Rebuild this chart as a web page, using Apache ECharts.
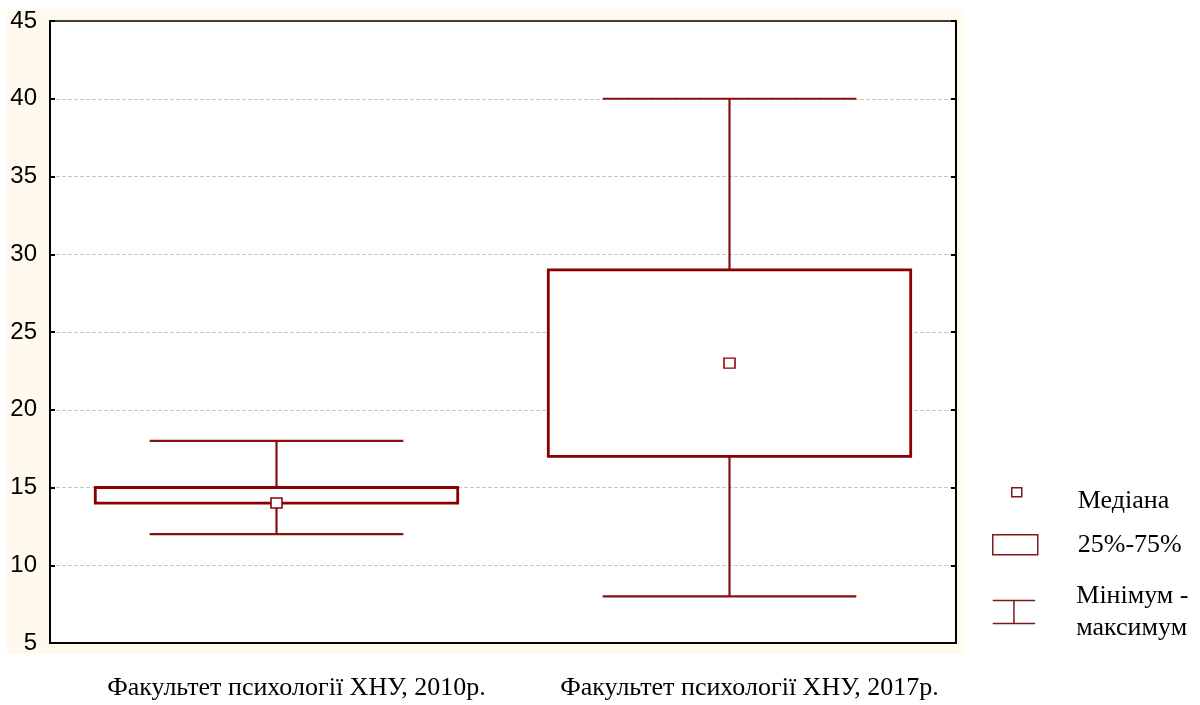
<!DOCTYPE html>
<html>
<head>
<meta charset="utf-8">
<title>Box plot</title>
<script src="https://cdn.jsdelivr.net/npm/echarts@6/dist/echarts.min.js"></script>
<style>
  html, body { margin: 0; padding: 0; background: #fff; }
  #chart { width: 1200px; height: 705px; }
</style>
</head>
<body>
<div id="chart"></div>
<script>
// categories and values
const categories = ['Факультет психології ХНУ, 2010р.', 'Факультет психології ХНУ, 2017р.'];
const minValues = [12, 8];
const q1Values = [14, 17];
const medians = [14, 23];
const q3Values = [15, 29];
const maxValues = [18, 40];
const yTicks = [5, 10, 15, 20, 25, 30, 35, 40, 45];

const RED = '#880000';

const chart = echarts.init(document.getElementById('chart'));

// whisker rows: [index, min, q1, q3, max]
const whiskerData = categories.map((c, i) => [i, minValues[i], q1Values[i], q3Values[i], maxValues[i]]);
// box rows: [index, q1, q3]
const boxData = categories.map((c, i) => [i, q1Values[i], q3Values[i]]);

chart.setOption({
  animation: false,
  backgroundColor: '#fff',
  // cream panel behind the plot
  graphic: [{
    type: 'rect',
    z: -10,
    silent: true,
    shape: { x: 7, y: 9, width: 957, height: 645 },
    style: { fill: '#fff9ee' }
  }],
  grid: {
    left: 50,
    right: 244,
    top: 21,
    bottom: 62,
    show: true,
    backgroundColor: '#fff',
    borderColor: '#000',
    borderWidth: 1.5
  },
  xAxis: {
    type: 'category',
    data: categories,
    axisLine: { lineStyle: { color: '#000', width: 2 } },
    axisTick: { inside: true, alignWithLabel: true, length: 5, lineStyle: { color: '#000', width: 1.5 } },
    axisLabel: {
      interval: 0,
      hideOverlap: false,
      color: '#000',
      fontFamily: 'Liberation Serif',
      fontSize: 26,
      margin: 32,
      padding: [0, 0, 0, 40]
    },
    splitLine: { show: false }
  },
  yAxis: [{
    type: 'value',
    min: yTicks[0],
    max: yTicks[yTicks.length - 1],
    interval: 5,
    axisLine: { show: true, lineStyle: { color: '#000', width: 2 } },
    axisTick: { show: true, inside: true, length: 5, lineStyle: { color: '#000', width: 2 } },
    axisLabel: { color: '#000', fontFamily: 'Liberation Sans', fontSize: 24, margin: 13 },
    splitLine: {
      show: true,
      showMinLine: false,
      showMaxLine: false,
      lineStyle: { color: '#c8c8c8', type: [4, 2], width: 1 }
    }
  }, {
    type: 'value',
    position: 'right',
    min: yTicks[0],
    max: yTicks[yTicks.length - 1],
    interval: 5,
    axisLine: { show: true, lineStyle: { color: '#000', width: 2 } },
    axisTick: { show: true, inside: true, length: 5, lineStyle: { color: '#000', width: 2 } },
    axisLabel: { show: false },
    splitLine: { show: false }
  }],
  // one legend block per entry so each can sit where it sits in the picture
  legend: [{
    left: 992, top: 487, padding: 0, orient: 'vertical',
    itemWidth: 80, itemHeight: 26, selectedMode: false,
    textStyle: { color: '#000', fontFamily: 'Liberation Serif', fontSize: 26, lineHeight: 26 },
    data: [{
      name: 'Медіана',
      icon: 'path://M0,0M80,26M19,0h10v9h-10z',
      itemStyle: { color: '#fff', borderColor: '#7a1a1a', borderWidth: 1.5 }
    }]
  }, {
    left: 992, top: 531, padding: 0, orient: 'vertical',
    itemWidth: 80, itemHeight: 26, selectedMode: false,
    textStyle: { color: '#000', fontFamily: 'Liberation Serif', fontSize: 26, lineHeight: 26 },
    data: [{
      name: '25%-75%',
      icon: 'path://M0,0M80,26M0,3h45v20h-45z',
      itemStyle: { color: '#fff', borderColor: '#7a1a1a', borderWidth: 1.5 }
    }]
  }, {
    left: 992, top: 580, padding: 0, orient: 'vertical',
    itemWidth: 80, itemHeight: 26, selectedMode: false,
    textStyle: { color: '#000', fontFamily: 'Liberation Serif', fontSize: 26, lineHeight: 32 },
    data: [{
      name: 'Мінімум -\nмаксимум',
      icon: 'path://M0,0M80,27M0,1.5H44M22,1.5V25.5M0,25.5H44',
      itemStyle: { color: 'rgba(0,0,0,0)', borderColor: '#7a1a1a', borderWidth: 1.5 }
    }]
  }],
  series: [
    {
      name: 'Мінімум -\nмаксимум',
      type: 'custom',
      z: 2,
      data: whiskerData,
      encode: { x: 0, y: [1, 2, 3, 4] },
      renderItem(params, api) {
        const idx = api.value(0);
        const pMin = api.coord([idx, api.value(1)]);
        const pQ1 = api.coord([idx, api.value(2)]);
        const pQ3 = api.coord([idx, api.value(3)]);
        const pMax = api.coord([idx, api.value(4)]);
        const half = api.size([1, 0])[0] * 0.56 / 2;
        const style = { stroke: '#8a1010', lineWidth: 2.2 };
        const cx = pMin[0];
        return {
          type: 'group',
          children: [
            { type: 'line', shape: { x1: cx - half, y1: pMin[1], x2: cx + half, y2: pMin[1] }, style },
            { type: 'line', shape: { x1: cx, y1: pMin[1], x2: cx, y2: pQ1[1] }, style },
            { type: 'line', shape: { x1: cx, y1: pQ3[1], x2: cx, y2: pMax[1] }, style },
            { type: 'line', shape: { x1: cx - half, y1: pMax[1], x2: cx + half, y2: pMax[1] }, style }
          ]
        };
      }
    },
    {
      name: '25%-75%',
      type: 'custom',
      z: 3,
      data: boxData,
      encode: { x: 0, y: [1, 2] },
      renderItem(params, api) {
        const idx = api.value(0);
        const lo = api.coord([idx, api.value(1)]);
        const hi = api.coord([idx, api.value(2)]);
        const w = api.size([1, 0])[0] * 0.8;
        return {
          type: 'rect',
          shape: { x: lo[0] - w / 2, y: hi[1], width: w, height: lo[1] - hi[1] },
          style: { fill: '#fff', stroke: RED, lineWidth: 2.8 }
        };
      }
    },
    {
      name: 'Медіана',
      type: 'scatter',
      z: 4,
      data: medians,
      symbol: 'rect',
      symbolSize: [11, 10],
      itemStyle: { color: '#fff', borderColor: '#900000', borderWidth: 1.5, opacity: 1 }
    }
  ]
});
</script>
</body>
</html>
